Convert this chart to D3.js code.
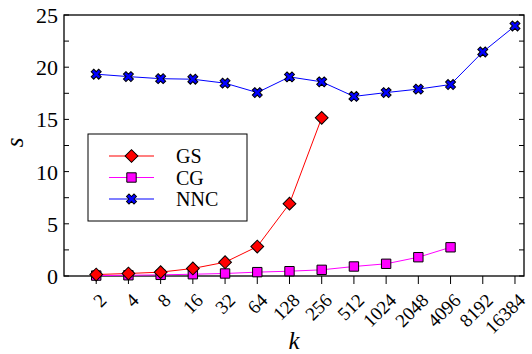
<!DOCTYPE html>
<html>
<head>
<meta charset="utf-8">
<script src="https://cdn.jsdelivr.net/npm/d3@7"></script>
<style>
  body { margin: 0; background: #fff; }
  svg text { font-family: "Times New Roman", Times, "Liberation Serif", "DejaVu Serif", serif; }
</style>
</head>
<body>
<div id="chart"></div>
<script>
// data
var kValues = [2, 4, 8, 16, 32, 64, 128, 256, 512, 1024, 2048, 4096, 8192, 16384];
var gsValues = [0.14, 0.24, 0.37, 0.72, 1.32, 2.82, 6.93, 15.15];
var cgValues = [0.04, 0.07, 0.11, 0.17, 0.24, 0.37, 0.46, 0.59, 0.91, 1.17, 1.8, 2.75];
var nncValues = [19.33, 19.1, 18.9, 18.85, 18.47, 17.57, 19.07, 18.6, 17.2, 17.57, 17.9, 18.34, 21.46, 23.95];
var yTicks = [0, 5, 10, 15, 20, 25];
var yMinor = [2.5, 7.5, 12.5, 17.5, 22.5];

var svgWidth = 532;
var svgHeight = 354;

var margin = { top: 15, right: 8, bottom: 78, left: 64 };
var width = svgWidth - margin.left - margin.right;
var height = svgHeight - margin.top - margin.bottom;

var svg = d3.select("#chart").append("svg")
    .attr("width", svgWidth)
    .attr("height", svgHeight);

var chartGroup = svg.append("g")
    .attr("transform", `translate(${margin.left}, ${margin.top})`);

// x is log2(k), so the k values sit evenly spaced
var xScale = d3.scaleLinear()
    .domain([0, 14.28])
    .range([0, width]);

var yScale = d3.scaleLinear()
    .domain([0, 25])
    .range([height, 0]);

function xOf(i) { return xScale(Math.log2(kValues[i])); }

// frame
chartGroup.append("rect")
    .attr("x", 0).attr("y", 0)
    .attr("width", width).attr("height", height)
    .attr("fill", "none")
    .attr("stroke", "#000")
    .attr("stroke-width", 1.3);

// y ticks, inward on both sides
var allY = yTicks.concat(yMinor);
chartGroup.selectAll(".ytick-l").data(allY).enter().append("line")
    .attr("x1", 0).attr("x2", 5)
    .attr("y1", d => yScale(d)).attr("y2", d => yScale(d))
    .attr("stroke", "#000").attr("stroke-width", 1);
chartGroup.selectAll(".ytick-r").data(allY).enter().append("line")
    .attr("x1", width - 5).attr("x2", width)
    .attr("y1", d => yScale(d)).attr("y2", d => yScale(d))
    .attr("stroke", "#000").attr("stroke-width", 1);

chartGroup.selectAll(".ylab").data(yTicks).enter().append("text")
    .attr("x", -6)
    .attr("y", d => yScale(d))
    .attr("dy", "0.36em")
    .attr("text-anchor", "end")
    .style("font-size", "22px")
    .text(d => d);

// x ticks, outward at the bottom
chartGroup.selectAll(".xtick").data(kValues).enter().append("line")
    .attr("x1", (d, i) => xOf(i)).attr("x2", (d, i) => xOf(i))
    .attr("y1", height).attr("y2", height + 8)
    .attr("stroke", "#000").attr("stroke-width", 1);

chartGroup.selectAll(".xlab").data(kValues).enter().append("text")
    .attr("transform", (d, i) => `translate(${xOf(i) + 7}, ${height + 21}) rotate(-45)`)
    .attr("text-anchor", "end")
    .attr("dy", "0.33em")
    .style("font-size", "19px")
    .text(d => d);

// axis titles
svg.append("text")
    .attr("x", margin.left + width / 2)
    .attr("y", 349)
    .attr("text-anchor", "middle")
    .style("font-size", "25px")
    .style("font-style", "italic")
    .text("k");

svg.append("text")
    .attr("transform", `translate(23, ${margin.top + height / 2 - 3}) rotate(-90)`)
    .attr("text-anchor", "middle")
    .style("font-size", "25px")
    .style("font-style", "italic")
    .text("s");

// markers
var diamond = d3.symbol().type(d3.symbolSquare).size(82);
var square = d3.symbol().type(d3.symbolSquare).size(88);
var cross = d3.symbol().type(d3.symbolCross).size(62);

function drawMarker(g, type, x, y) {
    if (type === "GS") {
        g.append("path").attr("d", diamond())
            .attr("transform", `translate(${x}, ${y}) rotate(45)`)
            .attr("fill", "#ff0000").attr("stroke", "#000").attr("stroke-width", 1);
    } else if (type === "CG") {
        g.append("path").attr("d", square())
            .attr("transform", `translate(${x}, ${y})`)
            .attr("fill", "#ff00ff").attr("stroke", "#000").attr("stroke-width", 1);
    } else {
        g.append("path").attr("d", cross())
            .attr("transform", `translate(${x}, ${y}) rotate(45)`)
            .attr("fill", "#0000ff").attr("stroke", "#000").attr("stroke-width", 1);
    }
}

var series = [
    { name: "GS", values: gsValues, color: "#ff0000" },
    { name: "CG", values: cgValues, color: "#ff00ff" },
    { name: "NNC", values: nncValues, color: "#0000ff" }
];

var line = d3.line()
    .x((d, i) => xOf(i))
    .y(d => yScale(d));

series.forEach(function(s) {
    chartGroup.append("path")
        .datum(s.values)
        .attr("d", line)
        .attr("fill", "none")
        .attr("stroke", s.color)
        .attr("stroke-width", 1);
});

// CG under GS, NNC on top
["CG", "GS", "NNC"].forEach(function(name) {
    var s = series.find(d => d.name === name);
    var mg = chartGroup.append("g");
    s.values.forEach(function(v, i) {
        drawMarker(mg, name, xOf(i), yScale(v));
    });
});

// legend
var legend = svg.append("g");
legend.append("rect")
    .attr("x", 88).attr("y", 134)
    .attr("width", 159).attr("height", 87)
    .attr("fill", "#fff")
    .attr("stroke", "#000")
    .attr("stroke-width", 1);

series.forEach(function(s, i) {
    var ly = 156 + i * 21.5;
    legend.append("line")
        .attr("x1", 109).attr("x2", 154)
        .attr("y1", ly).attr("y2", ly)
        .attr("stroke", s.color).attr("stroke-width", 1.2);
    drawMarker(legend, s.name, 131.5, ly);
    legend.append("text")
        .attr("x", 176).attr("y", ly)
        .attr("dy", "0.35em")
        .style("font-size", "20px")
        .text(s.name);
});
</script>
</body>
</html>
